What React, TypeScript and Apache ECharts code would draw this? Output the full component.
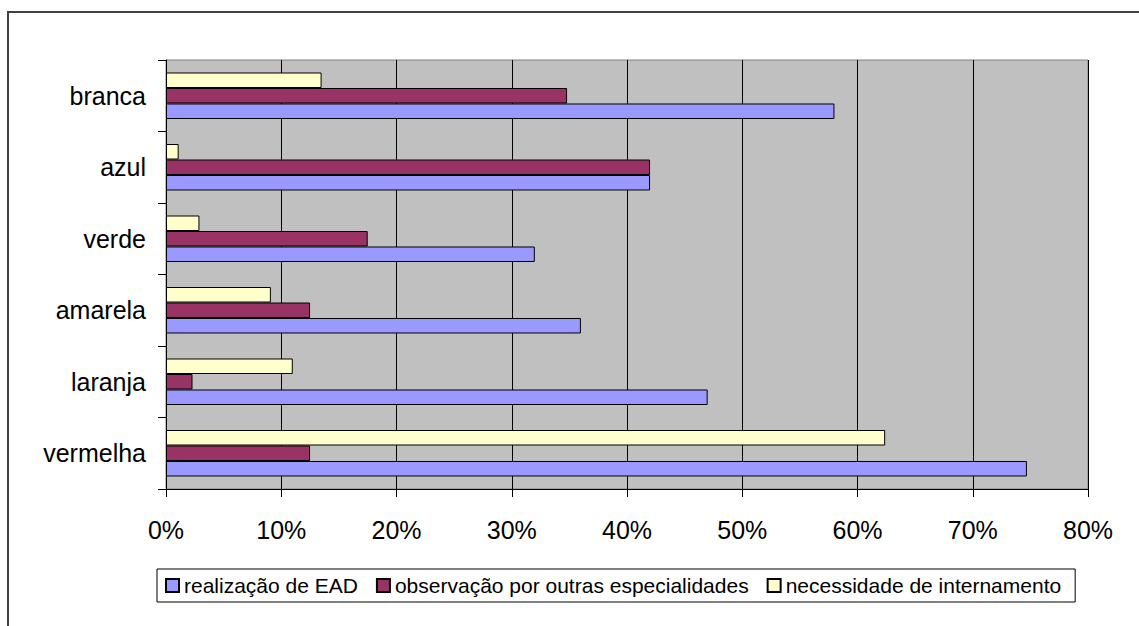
import React, { useEffect, useRef } from "react";
import * as echarts from "echarts";

const categories = ["branca", "azul", "verde", "amarela", "laranja", "vermelha"];
const seriesNames = [
  "realização de EAD",
  "observação por outras especialidades",
  "necessidade de internamento",
];
const realizacaoEAD = [58, 42, 32, 36, 47, 74.7];
const observacao = [34.8, 42, 17.5, 12.5, 2.3, 12.5];
const internamento = [13.5, 1.1, 2.9, 9.1, 11, 62.4];
const colors = ["#9999FF", "#993366", "#FFFFCC"];

const FONT = "'Liberation Sans', Arial, sans-serif";

export default function App() {
  const ref = useRef<HTMLDivElement>(null);
  useEffect(() => {
    if (!ref.current) return;
    const chart = echarts.init(ref.current, undefined, { renderer: "svg" });
    const mk = (i: number, data: number[]) => ({
      name: seriesNames[i],
      type: "bar",
      data,
      barGap: "0%",
      barCategoryGap: "35%",
      itemStyle: { color: colors[i], borderColor: "#000", borderWidth: 1 },
    });
    chart.setOption({
      animation: false,
      backgroundColor: "#fff",
      textStyle: { fontFamily: FONT },
      graphic: [
        {
          type: "rect",
          shape: { x: 8, y: 12, width: 1300, height: 800 },
          style: { fill: "none", stroke: "#404040", lineWidth: 2 },
          silent: true,
          z: -10,
        },
      ],
      grid: {
        left: 166,
        top: 60,
        width: 922,
        height: 429,
        show: true,
        backgroundColor: "#C0C0C0",
        borderColor: "#808080",
        borderWidth: 1,
      },
      legend: {
        data: seriesNames,
        left: 157,
        top: 569,
        icon: "rect",
        itemWidth: 13,
        itemHeight: 13,
        itemGap: 18,
        padding: [6, 14, 6, 8],
        borderColor: "#000",
        borderWidth: 1,
        textStyle: { fontFamily: FONT, fontSize: 21, color: "#000" },
      },
      xAxis: {
        type: "value",
        min: 0,
        max: 80,
        interval: 10,
        axisLine: { show: true, lineStyle: { color: "#000", width: 1 } },
        axisTick: { show: true, length: 8, lineStyle: { color: "#000" } },
        axisLabel: {
          formatter: "{value}%",
          fontFamily: FONT,
          fontSize: 25,
          color: "#000",
          margin: 28,
        },
        splitLine: { show: true, lineStyle: { color: "#000", width: 1 } },
      },
      yAxis: {
        type: "category",
        data: categories,
        inverse: true,
        axisLine: { show: true, lineStyle: { color: "#000", width: 1 } },
        axisTick: { show: true, length: 8, lineStyle: { color: "#000" } },
        axisLabel: {
          fontFamily: FONT,
          fontSize: 25,
          color: "#000",
          margin: 20,
        },
      },
      series: [mk(2, internamento), mk(1, observacao), mk(0, realizacaoEAD)],
    });
    return () => chart.dispose();
  }, []);
  return (
    <div
      ref={ref}
      style={{ position: "fixed", left: 0, top: 0, width: 1139, height: 626 }}
    />
  );
}
